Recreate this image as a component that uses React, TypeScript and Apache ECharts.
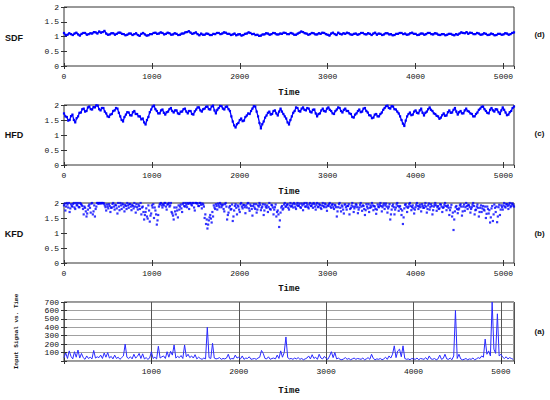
import React, { useEffect, useRef } from "react";
import * as echarts from "echarts";

// ---- data ----
const SDF_STEP = 20;
const sdfValues = [
  1.12, 1.04, 1.06, 1.11, 1.08, 1.05, 1.10, 1.13, 1.07, 1.03, 1.09, 1.12, 1.12, 1.06, 1.08, 1.11, 1.10, 1.15, 1.14, 1.10,
  1.17, 1.13, 1.15, 1.19, 1.10, 1.06, 1.07, 1.11, 1.11, 1.06, 1.09, 1.13, 1.13, 1.09, 1.08, 1.04, 1.06, 1.10, 1.10, 1.05,
  1.08, 1.11, 1.05, 1.02, 1.09, 1.12, 1.07, 1.03, 1.04, 1.08, 1.08, 1.12, 1.13, 1.09, 1.10, 1.14, 1.12, 1.07, 1.09, 1.13,
  1.11, 1.06, 1.07, 1.11, 1.09, 1.05, 1.06, 1.10, 1.10, 1.14, 1.15, 1.18, 1.13, 1.09, 1.11, 1.14, 1.08, 1.04, 1.10, 1.06,
  1.06, 1.10, 1.09, 1.05, 1.05, 1.09, 1.08, 1.12, 1.12, 1.08, 1.10, 1.14, 1.13, 1.09, 1.09, 1.05, 1.07, 1.10, 1.04, 1.07,
  1.08, 1.03, 1.05, 1.09, 1.10, 1.14, 1.12, 1.08, 1.09, 1.05, 1.06, 1.02, 1.03, 1.07, 1.07, 1.11, 1.10, 1.06, 1.08, 1.12,
  1.11, 1.07, 1.07, 1.10, 1.09, 1.13, 1.12, 1.08, 1.08, 1.12, 1.10, 1.06, 1.06, 1.10, 1.13, 1.17, 1.15, 1.11, 1.10, 1.06,
  1.08, 1.12, 1.11, 1.07, 1.07, 1.11, 1.09, 1.13, 1.12, 1.08, 1.06, 1.03, 1.10, 1.13, 1.08, 1.05, 1.13, 1.09, 1.07, 1.11,
  1.09, 1.13, 1.11, 1.07, 1.06, 1.09, 1.10, 1.06, 1.08, 1.12, 1.12, 1.08, 1.07, 1.11, 1.09, 1.05, 1.10, 1.13, 1.06, 1.10,
  1.09, 1.05, 1.07, 1.11, 1.11, 1.07, 1.08, 1.04, 1.05, 1.09, 1.09, 1.12, 1.12, 1.08, 1.10, 1.06, 1.07, 1.11, 1.13, 1.09,
  1.09, 1.05, 1.06, 1.10, 1.10, 1.06, 1.08, 1.12, 1.12, 1.08, 1.07, 1.11, 1.10, 1.06, 1.05, 1.08, 1.08, 1.04, 1.06, 1.09,
  1.09, 1.06, 1.04, 1.08, 1.06, 1.10, 1.14, 1.12, 1.11, 1.15, 1.09, 1.13, 1.12, 1.08, 1.08, 1.12, 1.10, 1.06, 1.07, 1.11,
  1.09, 1.05, 1.06, 1.10, 1.08, 1.04, 1.05, 1.09, 1.09, 1.06, 1.07, 1.11, 1.10, 1.06, 1.08, 1.12, 1.14,
];

const HFD_STEP = 16;
const hfdValues = [
  1.72, 1.62, 1.60, 1.48, 1.50, 1.63, 1.68, 1.50, 1.42, 1.56, 1.62, 1.74, 1.75, 1.86, 1.88, 1.78, 1.80, 1.92, 1.95, 1.86,
  1.85, 1.93, 1.92, 1.99, 1.98, 1.86, 1.82, 1.90, 1.90, 1.78, 1.72, 1.62, 1.60, 1.68, 1.70, 1.80, 1.82, 1.90, 1.88, 1.74,
  1.62, 1.50, 1.45, 1.60, 1.68, 1.76, 1.75, 1.66, 1.65, 1.76, 1.80, 1.70, 1.70, 1.62, 1.62, 1.52, 1.55, 1.42, 1.35, 1.50,
  1.60, 1.76, 1.85, 1.95, 1.98, 1.86, 1.80, 1.72, 1.72, 1.82, 1.85, 1.74, 1.68, 1.76, 1.78, 1.86, 1.90, 1.80, 1.75, 1.82,
  1.82, 1.72, 1.70, 1.78, 1.78, 1.86, 1.88, 1.78, 1.72, 1.80, 1.80, 1.70, 1.68, 1.79, 1.85, 1.92, 1.92, 1.82, 1.78, 1.86,
  1.88, 1.94, 1.95, 1.86, 1.85, 1.95, 1.98, 1.82, 1.72, 1.84, 1.90, 1.97, 1.96, 1.88, 1.85, 1.94, 1.95, 1.86, 1.80, 1.62,
  1.45, 1.32, 1.25, 1.36, 1.40, 1.50, 1.55, 1.46, 1.48, 1.60, 1.65, 1.72, 1.70, 1.80, 1.88, 1.96, 1.95, 1.78, 1.62, 1.40,
  1.22, 1.36, 1.45, 1.58, 1.65, 1.74, 1.78, 1.68, 1.70, 1.80, 1.82, 1.72, 1.65, 1.78, 1.88, 1.78, 1.70, 1.62, 1.55, 1.42,
  1.35, 1.50, 1.62, 1.74, 1.80, 1.92, 1.90, 1.80, 1.78, 1.88, 1.92, 1.84, 1.82, 1.90, 1.88, 1.78, 1.75, 1.84, 1.85, 1.72,
  1.62, 1.70, 1.72, 1.82, 1.88, 1.80, 1.78, 1.88, 1.92, 1.84, 1.80, 1.72, 1.70, 1.80, 1.85, 1.92, 1.90, 1.80, 1.75, 1.84,
  1.88, 1.80, 1.80, 1.72, 1.70, 1.60, 1.58, 1.68, 1.72, 1.80, 1.85, 1.76, 1.78, 1.88, 1.90, 1.80, 1.75, 1.66, 1.65, 1.56,
  1.58, 1.68, 1.70, 1.62, 1.62, 1.70, 1.75, 1.84, 1.90, 1.96, 1.98, 1.90, 1.88, 1.96, 1.95, 1.86, 1.85, 1.78, 1.72, 1.62,
  1.50, 1.38, 1.30, 1.48, 1.62, 1.70, 1.75, 1.66, 1.68, 1.78, 1.82, 1.74, 1.72, 1.82, 1.88, 1.74, 1.65, 1.74, 1.78, 1.86,
  1.92, 1.84, 1.80, 1.72, 1.70, 1.64, 1.62, 1.54, 1.58, 1.66, 1.72, 1.64, 1.65, 1.76, 1.82, 1.74, 1.75, 1.84, 1.90, 1.78,
  1.68, 1.76, 1.80, 1.72, 1.72, 1.82, 1.88, 1.80, 1.78, 1.72, 1.70, 1.62, 1.62, 1.70, 1.75, 1.84, 1.88, 1.94, 1.95, 1.86,
  1.80, 1.74, 1.72, 1.84, 1.90, 1.82, 1.78, 1.86, 1.85, 1.76, 1.70, 1.82, 1.92, 1.84, 1.75, 1.66, 1.68, 1.76, 1.80, 1.90,
  1.95,
];

// KFD: two interleaved readings (t = 16·i and t = 8 + 16·i)
const KFD_STEP = 16;
const kfdValues = [
  1.92, 1.75, 2.00, 1.85, 1.70, 1.96, 1.88, 2.00, 1.80, 1.93, 2.00, 1.86, 1.97, 1.90, 1.62, 1.84,
  1.55, 1.78, 1.95, 1.68, 2.00, 1.72, 1.55, 1.88, 2.00, 2.00, 1.98, 2.00, 2.00, 1.92, 1.75, 1.88,
  1.96, 1.70, 1.85, 2.00, 1.78, 1.92, 1.65, 1.88, 2.00, 1.80, 1.95, 1.72, 1.90, 2.00, 1.84, 1.97,
  1.76, 1.90, 2.00, 1.68, 1.86, 1.95, 1.80, 1.62, 1.88, 1.45, 1.70, 1.55, 1.92, 1.38, 1.65, 1.85,
  1.50, 1.75, 1.28, 1.60, 1.95, 2.00, 1.85, 1.92, 2.00, 1.78, 1.96, 1.88, 2.00, 1.65, 1.45, 1.72,
  1.85, 1.52, 1.78, 1.95, 1.70, 2.00, 1.88, 1.94, 2.00, 1.80, 2.00, 1.92, 2.00, 1.75, 2.00, 1.98,
  1.90, 2.00, 1.82, 1.95, 1.50, 1.30, 1.15, 1.42, 1.60, 1.35, 1.55, 1.85, 1.96, 1.78, 1.92, 2.00,
  1.86, 1.95, 1.72, 2.00, 1.45, 1.68, 1.90, 1.80, 1.40, 1.75, 1.96, 1.62, 1.88, 1.70, 2.00, 1.82,
  1.93, 1.66, 1.85, 2.00, 1.74, 1.90, 1.58, 1.96, 1.80, 1.68, 1.92, 2.00, 1.76, 1.88, 1.60, 1.95,
  1.84, 1.70, 2.00, 1.78, 1.92, 1.62, 1.86, 1.55, 1.75, 1.20, 1.68, 1.90, 1.82, 2.00, 1.88, 1.96,
  1.78, 2.00, 1.90, 1.85, 1.96, 1.80, 2.00, 1.92, 1.86, 1.98, 1.76, 2.00, 1.88, 1.94, 1.82, 2.00,
  1.90, 1.84, 1.97, 1.78, 2.00, 1.88, 1.93, 1.80, 2.00, 1.86, 1.95, 1.74, 1.90, 2.00, 1.84, 1.96,
  1.80, 1.92, 1.55, 1.86, 2.00, 1.72, 1.88, 1.65, 1.95, 1.78, 1.90, 1.62, 1.84, 2.00, 1.70, 1.88,
  1.94, 1.66, 1.85, 2.00, 1.74, 1.90, 1.60, 1.96, 1.82, 1.70, 1.92, 2.00, 1.76, 1.88, 1.64, 1.95,
  1.86, 2.00, 1.72, 1.92, 1.80, 1.98, 1.68, 1.88, 1.45, 1.78, 1.95, 1.62, 1.85, 2.00, 1.74, 1.90,
  1.60, 1.30, 1.82, 1.96, 1.70, 1.88, 2.00, 1.76, 1.92, 1.65, 1.86, 2.00, 1.80, 1.94, 1.72, 1.90,
  1.84, 2.00, 1.68, 1.92, 1.78, 1.96, 1.62, 1.88, 2.00, 1.74, 1.90, 1.82, 1.95, 1.70, 1.86, 2.00,
  1.76, 1.92, 1.60, 1.85, 1.55, 1.10, 1.72, 1.90, 1.66, 1.82, 1.96, 1.58, 1.88, 1.74, 2.00, 1.80,
  1.92, 1.68, 1.86, 2.00, 1.62, 1.78, 1.95, 1.55, 1.84, 1.70, 1.90, 1.75, 1.50, 1.88, 1.65, 1.35,
  1.82, 1.40, 1.95, 1.70, 1.36, 1.86, 1.60, 1.92, 1.78, 2.00, 1.85, 1.96, 1.80, 2.00, 1.90, 1.97,
  1.88,
];
const KFD_OFFSET = 8;
const kfdValuesMid = [
  1.98, 1.88, 1.95, 2.00, 1.82, 1.90, 1.97, 1.85, 2.00, 1.92, 1.86, 2.00, 1.94, 1.80, 1.88, 1.72,
  1.65, 1.90, 1.84, 1.98, 1.62, 1.92, 1.80, 2.00, 1.97, 2.00, 2.00, 1.99, 1.98, 1.86, 1.95, 1.82,
  1.90, 1.84, 1.97, 1.88, 1.94, 1.82, 2.00, 1.76, 1.92, 1.98, 1.86, 1.94, 1.80, 1.92, 1.96, 1.88,
  1.94, 1.82, 1.88, 1.96, 1.78, 1.90, 2.00, 1.85, 1.70, 1.60, 1.82, 1.48, 1.75, 1.58, 1.92, 1.96,
  1.85, 1.62, 1.42, 1.88, 1.98, 1.92, 1.96, 2.00, 1.88, 1.95, 2.00, 1.92, 1.70, 1.58, 1.85, 1.62,
  1.75, 1.92, 1.88, 1.82, 1.96, 1.90, 2.00, 1.86, 1.97, 2.00, 1.95, 2.00, 1.85, 2.00, 1.99, 1.90,
  2.00, 1.94, 1.98, 1.88, 1.62, 1.45, 1.28, 1.52, 1.48, 1.70, 1.92, 1.80, 1.90, 1.98, 1.86, 1.95,
  1.92, 1.80, 1.96, 1.88, 1.60, 1.85, 1.78, 1.95, 1.55, 1.90, 1.84, 1.92, 1.78, 1.96, 1.88, 1.94,
  1.86, 1.92, 1.98, 1.82, 1.95, 1.80, 1.90, 1.85, 1.96, 1.78, 1.88, 1.94, 1.84, 1.96, 1.75, 1.88,
  1.92, 1.86, 1.80, 1.94, 1.85, 1.78, 1.95, 1.70, 1.62, 1.42, 1.85, 1.78, 1.95, 1.88, 1.94, 1.84,
  1.92, 1.88, 1.96, 2.00, 1.86, 1.94, 1.90, 1.98, 1.84, 1.92, 1.96, 1.88, 2.00, 1.86, 1.95, 1.90,
  1.96, 2.00, 1.88, 1.94, 1.86, 1.97, 1.84, 1.92, 1.90, 1.98, 1.86, 1.92, 1.96, 1.88, 1.94, 1.86,
  1.94, 1.86, 1.72, 1.96, 1.84, 1.92, 1.78, 1.95, 1.86, 1.90, 1.96, 1.80, 1.92, 1.88, 1.82, 1.96,
  1.86, 1.78, 1.94, 1.88, 1.92, 1.80, 1.76, 1.88, 1.96, 1.84, 1.86, 1.92, 1.90, 1.80, 1.78, 1.88,
  1.94, 1.90, 1.86, 1.98, 1.92, 1.88, 1.82, 1.96, 1.62, 1.90, 1.86, 1.78, 1.95, 1.90, 1.86, 1.80,
  1.75, 1.52, 1.94, 1.88, 1.84, 1.96, 1.90, 1.86, 1.82, 1.78, 1.94, 1.90, 1.88, 1.86, 1.96, 1.84,
  1.92, 1.88, 1.80, 1.98, 1.86, 1.90, 1.76, 1.94, 1.92, 1.86, 1.80, 1.96, 1.88, 1.84, 1.94, 1.90,
  1.88, 1.84, 1.76, 1.94, 1.68, 1.45, 1.86, 1.80, 1.78, 1.92, 1.88, 1.72, 1.95, 1.86, 1.90, 1.94,
  1.86, 1.80, 1.94, 1.90, 1.76, 1.88, 1.84, 1.70, 1.92, 1.82, 1.78, 1.88, 1.64, 1.80, 1.76, 1.52,
  1.90, 1.62, 1.84, 1.88, 1.55, 1.94, 1.78, 1.86, 1.92, 1.88, 1.96, 1.90, 1.94, 1.86, 1.98, 1.92,
];

const SIGNAL_STEP = 20;
const signalValues = [
  40, 95, 30, 120, 55, 25, 110, 45, 130, 35,
  90, 40, 20, 60, 30, 45, 25, 125, 35, 50,
  40, 70, 30, 95, 45, 100, 35, 55, 25, 70,
  30, 45, 20, 40, 60, 200, 45, 30, 50, 25,
  80, 35, 55, 90, 30, 85, 25, 40, 20, 35,
  110, 30, 45, 25, 175, 35, 50, 60, 30, 110,
  45, 115, 70, 190, 35, 55, 40, 65, 30, 190,
  50, 80, 40, 60, 35, 75, 25, 45, 30, 20,
  35, 25, 400, 40, 30, 210, 35, 25, 30, 40,
  20, 30, 25, 35, 80, 20, 30, 25, 70, 35,
  45, 25, 60, 20, 35, 30, 50, 20, 25, 30,
  20, 35, 45, 125, 90, 30, 25, 50, 20, 30,
  35, 25, 70, 30, 120, 45, 100, 285, 40, 25,
  30, 20, 35, 25, 40, 20, 30, 15, 25, 35,
  60, 25, 75, 30, 45, 20, 80, 35, 25, 55,
  30, 20, 60, 110, 40, 100, 25, 35, 20, 15,
  25, 40, 20, 30, 15, 25, 35, 20, 30, 25,
  20, 35, 15, 25, 40, 20, 80, 30, 15, 25,
  20, 30, 15, 25, 45, 20, 60, 35, 80, 180,
  40, 120, 140, 50, 180, 30, 20, 25, 15, 30,
  25, 20, 35, 15, 30, 25, 20, 40, 15, 60,
  25, 20, 30, 15, 25, 70, 20, 30, 80, 25,
  20, 35, 15, 60, 600, 30, 80, 25, 15, 20,
  30, 15, 25, 20, 35, 15, 25, 40, 30, 60,
  45, 260, 80, 120, 60, 700, 140, 90, 560, 60,
  80, 45, 30, 50, 25, 40, 30, 20,
];

const fdRange = [0, 2];
const fdInterval = 0.5;
const timeRangeTop = [0, 5120];
const timeRangeBottom = [0, 5150];
const timeInterval = 1000;
const signalRange = [0, 700];
const signalInterval = 100;
const panelNames = ["SDF", "HFD", "KFD"];
const panelTags = ["(d)", "(c)", "(b)", "(a)"];
const signalAxisName = "Input Signal vs. Time";
const timeName = "Time";

const MONO = "'Liberation Mono', 'DejaVu Sans Mono', monospace";
const SANS = "'Liberation Sans', Arial, sans-serif";
const BLUE = "#0000ff";

const toPairs = (vals: number[], step: number, offset = 0) =>
  vals.map((v, i) => [offset + i * step, v]);

export default function App() {
  const ref = useRef<HTMLDivElement>(null);

  useEffect(() => {
    if (!ref.current) return;
    const chart = echarts.init(ref.current, undefined, { renderer: "svg" });

    const grids = [
      { top: 7, height: 59 },
      { top: 105, height: 60 },
      { top: 203, height: 60 },
      { top: 302, height: 59 },
    ].map((g) => ({
      left: 64,
      width: 450,
      top: g.top,
      height: g.height,
      show: true,
      borderColor: "#333",
      borderWidth: 1,
      backgroundColor: "transparent",
      containLabel: false,
    }));

    const nameGaps = [22, 22, 21, 25];
    const tick = { show: true, inside: true, length: 3, lineStyle: { color: "#333" } };

    const xAxis: any[] = [];
    const yAxis: any[] = [];
    for (let g = 0; g < 4; g++) {
      const bottom = g === 3;
      const range = bottom ? timeRangeBottom : timeRangeTop;
      xAxis.push({
        type: "value",
        gridIndex: g,
        min: range[0],
        max: range[1],
        interval: timeInterval,
        axisLine: { show: false },
        axisTick: tick,
        splitLine: bottom
          ? { show: true, lineStyle: { color: "#555", width: 1 } }
          : { show: false },
        axisLabel: {
          fontFamily: MONO,
          fontSize: 8,
          color: "#111",
          margin: 6,
          showMaxLabel: false,
          formatter: (v: number) =>
            v % timeInterval === 0 && !(bottom && v === 0) ? String(v) : "",
        },
        name: timeName,
        nameLocation: "middle",
        nameGap: nameGaps[g],
        nameTextStyle: { fontFamily: MONO, fontSize: 9, fontWeight: "bold", color: "#111" },
      });
      xAxis.push({
        type: "value",
        gridIndex: g,
        position: "top",
        min: range[0],
        max: range[1],
        interval: timeInterval,
        axisLine: { show: false },
        axisTick: tick,
        axisLabel: { show: false },
        splitLine: { show: false },
      });
      const yr = bottom ? signalRange : fdRange;
      const yi = bottom ? signalInterval : fdInterval;
      yAxis.push({
        type: "value",
        gridIndex: g,
        min: yr[0],
        max: yr[1],
        interval: yi,
        axisLine: { show: false },
        axisTick: tick,
        splitLine: bottom
          ? { show: true, lineStyle: { color: "#a0a0a0", width: 1 } }
          : { show: false },
        axisLabel: {
          fontFamily: MONO,
          fontSize: 8,
          color: "#111",
          margin: 5,
          showMaxLabel: true,
          showMinLabel: true,
          formatter: (v: number) => (bottom && v === 0 ? "" : String(v)),
        },
        name: bottom ? signalAxisName : "",
        nameLocation: "middle",
        nameGap: 45,
        nameTextStyle: { fontFamily: MONO, fontSize: 6, fontWeight: "bold", color: "#111" },
      });
      yAxis.push({
        type: "value",
        gridIndex: g,
        position: "right",
        min: yr[0],
        max: yr[1],
        interval: yi,
        axisLine: { show: false },
        axisTick: tick,
        axisLabel: { show: false },
        splitLine: { show: false },
      });
    }

    const graphic: any[] = [];
    const nameY = [37.5, 135, 234];
    panelNames.forEach((n, i) => {
      graphic.push({
        type: "text",
        x: 14,
        y: nameY[i],
        style: {
          text: n,
          fontFamily: SANS,
          fontSize: 9,
          fontWeight: "bold",
          fill: "#111",
          align: "center",
          verticalAlign: "middle",
        },
      });
    });
    const tagY = [34.5, 133, 233, 331];
    panelTags.forEach((t, i) => {
      graphic.push({
        type: "text",
        x: 539.5,
        y: tagY[i],
        style: {
          text: t,
          fontFamily: SANS,
          fontSize: 8,
          fontWeight: "bold",
          fill: "#111",
          align: "center",
          verticalAlign: "middle",
        },
      });
    });

    const dotLine = (data: number[][], xi: number, width: number) => ({
      type: "line",
      xAxisIndex: xi,
      yAxisIndex: xi,
      data,
      showSymbol: true,
      showAllSymbol: true,
      symbol: "rect",
      symbolSize: 2.2,
      itemStyle: { color: BLUE },
      lineStyle: { color: BLUE, width },
      clip: true,
    });

    chart.setOption({
      animation: false,
      backgroundColor: "#fff",
      grid: grids,
      xAxis,
      yAxis,
      graphic,
      series: [
        dotLine(toPairs(sdfValues, SDF_STEP), 0, 1.6),
        dotLine(toPairs(hfdValues, HFD_STEP), 2, 1.3),
        {
          type: "scatter",
          xAxisIndex: 4,
          yAxisIndex: 4,
          data: toPairs(kfdValues, KFD_STEP),
          symbol: "rect",
          symbolSize: 2.2,
          itemStyle: { color: BLUE },
          clip: true,
        },
        {
          type: "scatter",
          xAxisIndex: 4,
          yAxisIndex: 4,
          data: toPairs(kfdValuesMid, KFD_STEP, KFD_OFFSET),
          symbol: "rect",
          symbolSize: 2.2,
          itemStyle: { color: BLUE },
          clip: true,
        },
        {
          type: "line",
          xAxisIndex: 6,
          yAxisIndex: 6,
          data: toPairs(signalValues, SIGNAL_STEP),
          showSymbol: false,
          lineStyle: { color: "#2a2aff", width: 1 },
          clip: true,
        },
      ],
    });

    return () => chart.dispose();
  }, []);

  return (
    <div
      ref={ref}
      style={{ position: "fixed", left: 0, top: 0, width: 550, height: 400, background: "#fff" }}
    />
  );
}
